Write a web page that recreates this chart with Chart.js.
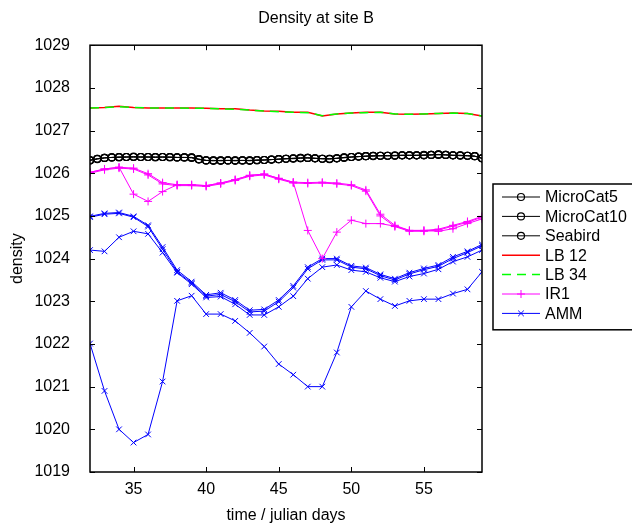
<!DOCTYPE html>
<html>
<head>
<meta charset="utf-8">
<title>Density at site B</title>
<script src="https://cdn.jsdelivr.net/npm/chart.js@4.4.0/dist/chart.umd.min.js"></script>
<style>
  html, body { margin: 0; padding: 0; background: #fff; }
  #wrap { width: 632px; height: 526px; }
</style>
</head>
<body>
<div id="wrap"><canvas id="densityChart" width="632" height="526"></canvas></div>
<script>
// x values: daily samples and half-day samples (julian days)
const days = [32, 33, 34, 35, 36, 37, 38, 39, 40, 41, 42, 43, 44, 45,
              46, 47, 48, 49, 50, 51, 52, 53, 54, 55, 56, 57, 58, 59];
const halfDays = [32, 32.5, 33, 33.5, 34, 34.5, 35, 35.5, 36, 36.5, 37, 37.5, 38, 38.5,
                  39, 39.5, 40, 40.5, 41, 41.5, 42, 42.5, 43, 43.5, 44, 44.5, 45, 45.5,
                  46, 46.5, 47, 47.5, 48, 48.5, 49, 49.5, 50, 50.5, 51, 51.5, 52, 52.5,
                  53, 53.5, 54, 54.5, 55, 55.5, 56, 56.5, 57, 57.5, 58, 58.5, 59];

const xTicks = [35, 40, 45, 50, 55];
const yTicks = [1019, 1020, 1021, 1022, 1023, 1024, 1025, 1026, 1027, 1028, 1029];

// black circle series (half-day)
const microCat5 = [1026.30, 1026.34, 1026.36, 1026.37, 1026.38, 1026.38, 1026.38, 1026.38, 1026.38, 1026.38,
                   1026.38, 1026.38, 1026.37, 1026.37, 1026.37, 1026.33, 1026.30, 1026.30, 1026.30, 1026.30,
                   1026.30, 1026.30, 1026.30, 1026.31, 1026.31, 1026.32, 1026.33, 1026.34, 1026.35, 1026.36,
                   1026.36, 1026.35, 1026.34, 1026.34, 1026.35, 1026.37, 1026.38, 1026.39, 1026.40, 1026.41,
                   1026.41, 1026.41, 1026.41, 1026.42, 1026.42, 1026.42, 1026.42, 1026.43, 1026.44, 1026.43,
                   1026.42, 1026.42, 1026.41, 1026.40, 1026.35];
const microCat10 = [1026.31, 1026.34, 1026.36, 1026.37, 1026.38, 1026.38, 1026.39, 1026.38, 1026.38, 1026.38,
                    1026.38, 1026.37, 1026.37, 1026.37, 1026.36, 1026.32, 1026.30, 1026.29, 1026.30, 1026.30,
                    1026.29, 1026.30, 1026.30, 1026.30, 1026.31, 1026.32, 1026.33, 1026.34, 1026.35, 1026.36,
                    1026.36, 1026.35, 1026.34, 1026.34, 1026.35, 1026.36, 1026.38, 1026.39, 1026.40, 1026.40,
                    1026.41, 1026.41, 1026.41, 1026.42, 1026.42, 1026.42, 1026.43, 1026.43, 1026.43, 1026.43,
                    1026.42, 1026.41, 1026.41, 1026.40, 1026.35];
const seabird = [1026.30, 1026.33, 1026.36, 1026.37, 1026.37, 1026.38, 1026.38, 1026.38, 1026.38, 1026.37,
                 1026.38, 1026.38, 1026.37, 1026.37, 1026.37, 1026.33, 1026.30, 1026.30, 1026.29, 1026.30,
                 1026.30, 1026.30, 1026.29, 1026.31, 1026.31, 1026.32, 1026.33, 1026.34, 1026.34, 1026.35,
                 1026.36, 1026.35, 1026.34, 1026.33, 1026.35, 1026.37, 1026.38, 1026.39, 1026.40, 1026.41,
                 1026.41, 1026.41, 1026.42, 1026.42, 1026.42, 1026.42, 1026.42, 1026.43, 1026.44, 1026.43,
                 1026.42, 1026.42, 1026.41, 1026.40, 1026.35];

// LB series (daily)
const lb12 = [1027.53, 1027.54, 1027.57, 1027.54, 1027.53, 1027.53, 1027.53, 1027.53, 1027.52, 1027.51,
              1027.51, 1027.48, 1027.46, 1027.45, 1027.43, 1027.43, 1027.34, 1027.39, 1027.41, 1027.43,
              1027.43, 1027.39, 1027.38, 1027.39, 1027.40, 1027.41, 1027.40, 1027.34];
const lb34 = [1027.53, 1027.54, 1027.56, 1027.54, 1027.53, 1027.53, 1027.53, 1027.52, 1027.52, 1027.51,
              1027.50, 1027.48, 1027.46, 1027.44, 1027.43, 1027.42, 1027.35, 1027.39, 1027.41, 1027.42,
              1027.43, 1027.39, 1027.38, 1027.39, 1027.40, 1027.41, 1027.40, 1027.34];

// IR1 (magenta, three instruments plotted in the same style)
const ir1 = [1026.02, 1026.10, 1026.14, 1026.12, 1025.99, 1025.78, 1025.73, 1025.73, 1025.71, 1025.77,
             1025.85, 1025.95, 1025.98, 1025.88, 1025.79, 1025.78, 1025.79, 1025.77, 1025.73, 1025.61,
             1025.04, 1024.78, 1024.66, 1024.66, 1024.69, 1024.78, 1024.87, 1024.99];
const ir1b = [1026.00, 1026.08, 1026.12, 1026.10, 1025.96, 1025.75, 1025.71, 1025.71, 1025.69, 1025.75,
              1025.83, 1025.93, 1025.96, 1025.86, 1025.77, 1025.76, 1025.77, 1025.75, 1025.71, 1025.58,
              1025.00, 1024.75, 1024.64, 1024.64, 1024.67, 1024.76, 1024.85, 1024.97];
const ir1c = [1026.02, 1026.10, 1026.14, 1025.51, 1025.34, 1025.57, 1025.73, 1025.73, 1025.71, 1025.77,
              1025.85, 1025.95, 1025.98, 1025.88, 1025.79, 1024.66, 1024.00, 1024.62, 1024.90, 1024.82,
              1024.82, 1024.76, 1024.66, 1024.66, 1024.64, 1024.70, 1024.82, 1024.93];

// AMM (blue, four instruments plotted in the same style)
const amm = [1024.99, 1025.06, 1025.08, 1024.99, 1024.78, 1024.27, 1023.73, 1023.46, 1023.15, 1023.20,
             1023.03, 1022.79, 1022.81, 1023.03, 1023.36, 1023.80, 1024.00, 1024.00, 1023.83, 1023.79,
             1023.63, 1023.53, 1023.67, 1023.77, 1023.85, 1024.04, 1024.17, 1024.33];
const ammB = [1024.97, 1025.04, 1025.06, 1024.97, 1024.75, 1024.22, 1023.69, 1023.43, 1023.12, 1023.16,
              1022.99, 1022.75, 1022.77, 1022.99, 1023.32, 1023.76, 1023.97, 1023.97, 1023.80, 1023.76,
              1023.60, 1023.50, 1023.64, 1023.74, 1023.82, 1024.00, 1024.14, 1024.30];
const ammC = [1024.20, 1024.17, 1024.50, 1024.64, 1024.58, 1024.14, 1023.67, 1023.40, 1023.09, 1023.11,
              1022.93, 1022.68, 1022.68, 1022.87, 1023.12, 1023.53, 1023.80, 1023.85, 1023.73, 1023.69,
              1023.55, 1023.46, 1023.58, 1023.65, 1023.75, 1023.93, 1024.04, 1024.20];
const ammD = [1022.01, 1020.90, 1020.00, 1019.69, 1019.88, 1021.12, 1023.01, 1023.13, 1022.70, 1022.70,
              1022.54, 1022.26, 1021.94, 1021.53, 1021.28, 1021.00, 1021.00, 1021.80, 1022.87, 1023.24,
              1023.05, 1022.89, 1023.01, 1023.05, 1023.05, 1023.18, 1023.28, 1023.69];

const FONT = '"Liberation Sans", Arial, Helvetica, sans-serif';

function pts(xs, ys) {
    return xs.map((x, i) => ({ x: x, y: ys[i] }));
}

function blackSeries(label, values) {
    return {
        label: label, legend: true, data: pts(halfDays, values),
        borderColor: '#000', borderWidth: 1, pointStyle: 'circle', pointRadius: 3.5,
        pointBorderWidth: 1.2, pointBackgroundColor: 'rgba(0,0,0,0)', pointBorderColor: '#000', order: 0
    };
}
function irSeries(label, values, legend) {
    return {
        label: label, legend: legend, data: pts(days, values),
        borderColor: '#ff00ff', borderWidth: 1, pointStyle: 'cross', pointRadius: 4,
        pointBorderWidth: 1, pointBorderColor: '#ff00ff', pointBackgroundColor: '#ff00ff', order: 2
    };
}
function ammSeries(label, values, legend) {
    return {
        label: label, legend: legend, data: pts(days, values),
        borderColor: '#0000ff', borderWidth: 1, pointStyle: 'crossRot', pointRadius: 4,
        pointBorderWidth: 1, pointBorderColor: '#0000ff', pointBackgroundColor: '#0000ff', order: 3
    };
}

const datasets = [
    blackSeries('MicroCat5', microCat5),
    blackSeries('MicroCat10', microCat10),
    blackSeries('Seabird', seabird),
    { label: 'LB 12', legend: true, data: pts(days, lb12), borderColor: '#ff0000', borderWidth: 1.5,
      pointRadius: 0, order: 5 },
    { label: 'LB 34', legend: true, data: pts(days, lb34), borderColor: '#00ff00', borderWidth: 1.5,
      borderDash: [9, 6], pointRadius: 0, order: 4 },
    irSeries('IR1', ir1, true),
    ammSeries('AMM', amm, true),
    irSeries('IR1 b', ir1b, false),
    irSeries('IR1 c', ir1c, false),
    ammSeries('AMM b', ammB, false),
    ammSeries('AMM c', ammC, false),
    ammSeries('AMM d', ammD, false)
];

function marker(ctx, style, x, y, r) {
    ctx.beginPath();
    if (style === 'circle') {
        ctx.arc(x, y, r, 0, Math.PI * 2);
    } else if (style === 'cross') {
        ctx.moveTo(x - r, y); ctx.lineTo(x + r, y);
        ctx.moveTo(x, y - r); ctx.lineTo(x, y + r);
    } else if (style === 'crossRot') {
        const d = r * Math.SQRT1_2;
        ctx.moveTo(x - d, y - d); ctx.lineTo(x + d, y + d);
        ctx.moveTo(x - d, y + d); ctx.lineTo(x + d, y - d);
    }
    ctx.stroke();
}

// gnuplot-like frame with inward ticks on all four sides, plus boxed key
const framePlugin = {
    id: 'frame',
    afterDraw(chart) {
        const ctx = chart.ctx;
        const a = chart.chartArea;
        const xs = chart.scales.x, ys = chart.scales.y;
        ctx.save();
        ctx.strokeStyle = '#000';
        ctx.lineWidth = 1.5;
        ctx.strokeRect(a.left, a.top, a.right - a.left, a.bottom - a.top);
        ctx.lineWidth = 1;
        ctx.beginPath();
        ys.ticks.forEach(t => {
            const py = Math.round(ys.getPixelForValue(t.value)) + 0.5;
            ctx.moveTo(a.left, py); ctx.lineTo(a.left + 5, py);
            ctx.moveTo(a.right, py); ctx.lineTo(a.right - 5, py);
        });
        xs.ticks.forEach(t => {
            const px = Math.round(xs.getPixelForValue(t.value)) + 0.5;
            ctx.moveTo(px, a.bottom); ctx.lineTo(px, a.bottom - 5);
            ctx.moveTo(px, a.top); ctx.lineTo(px, a.top + 5);
        });
        ctx.stroke();

        // key
        const entries = chart.data.datasets.filter(d => d.legend);
        const boxL = a.right + 11, boxT = 184, rowH = 19.4;
        ctx.lineWidth = 1.5;
        ctx.strokeRect(boxL, boxT, 200, entries.length * rowH + 10);
        ctx.font = '16px ' + FONT;
        ctx.textBaseline = 'middle';
        ctx.fillStyle = '#000';
        entries.forEach((d, i) => {
            const y = boxT + 13 + i * rowH;
            ctx.strokeStyle = d.borderColor;
            ctx.lineWidth = d.borderWidth;
            ctx.setLineDash(d.borderDash || []);
            ctx.beginPath();
            ctx.moveTo(boxL + 9, y); ctx.lineTo(boxL + 47, y);
            ctx.stroke();
            ctx.setLineDash([]);
            if (d.pointRadius > 0) {
                ctx.lineWidth = d.pointBorderWidth;
                marker(ctx, d.pointStyle, boxL + 28, y, d.pointRadius);
            }
            ctx.fillText(d.label, boxL + 52, y + 1);
        });
        ctx.restore();
    }
};

const ctx = document.getElementById('densityChart').getContext('2d');
const densityChart = new Chart(ctx, {
    type: 'line',
    data: { datasets: datasets },
    plugins: [framePlugin],
    options: {
        responsive: false,
        animation: false,
        layout: { padding: 0 },
        plugins: {
            legend: { display: false },
            tooltip: { enabled: false },
            title: {
                display: true,
                text: 'Density at site B',
                color: '#000',
                font: { family: FONT, size: 16, weight: 'normal' },
                padding: { top: 9, bottom: 17 }
            }
        },
        elements: { line: { tension: 0 } },
        scales: {
            x: {
                type: 'linear',
                min: 32,
                max: 59,
                grid: { display: false },
                border: { display: false },
                afterBuildTicks: s => { s.ticks = xTicks.map(v => ({ value: v })); },
                afterFit: s => { s.height = 54; },
                ticks: { color: '#000', padding: 0, font: { family: FONT, size: 16 },
                         callback: v => String(v) },
                title: {
                    display: true, text: 'time / julian days', color: '#000',
                    font: { family: FONT, size: 16 }, padding: { top: 0, bottom: 1 }
                }
            },
            y: {
                type: 'linear',
                min: 1019,
                max: 1029,
                grid: { display: false },
                border: { display: false },
                afterBuildTicks: s => { s.ticks = yTicks.map(v => ({ value: v })); },
                afterFit: s => { s.width = 90; },
                ticks: { color: '#000', padding: 12, font: { family: FONT, size: 16 },
                         callback: v => String(v) },
                title: {
                    display: true, text: 'density', color: '#000',
                    font: { family: FONT, size: 16 }, padding: { top: 8, bottom: 0 }
                }
            },
            // empty right-hand axis: reserves the space where the key sits
            keySpace: {
                type: 'linear',
                position: 'right',
                grid: { display: false },
                border: { display: false },
                ticks: { display: false },
                afterFit: s => { s.width = 150; }
            }
        }
    }
});
</script>
</body>
</html>
